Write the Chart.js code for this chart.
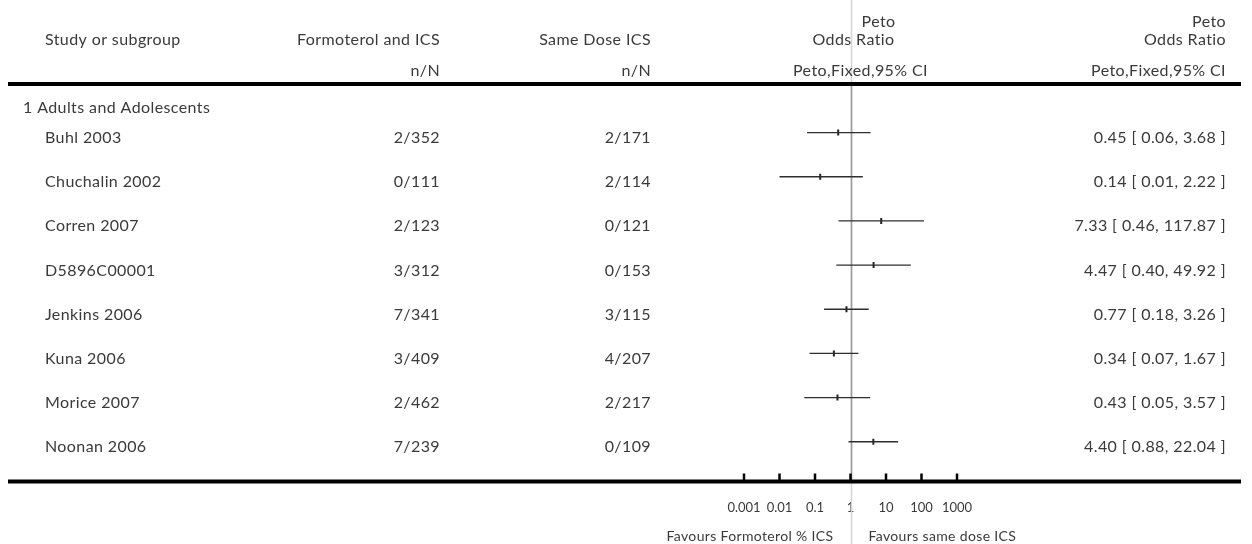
<!DOCTYPE html>
<html>
<head>
<meta charset="utf-8">
<script src="https://cdn.jsdelivr.net/npm/chart.js@4.4.0/dist/chart.umd.min.js"></script>
<style>
html,body{margin:0;padding:0;background:#fff;}
#wrap{width:1252px;height:544px;position:relative;}
</style>
</head>
<body>
<div id="wrap"><canvas id="c" width="1252" height="544"></canvas></div>
<script>
const studies = ["Buhl 2003","Chuchalin 2002","Corren 2007","D5896C00001","Jenkins 2006","Kuna 2006","Morice 2007","Noonan 2006"];
const formoterolICS = ["2/352","0/111","2/123","3/312","7/341","3/409","2/462","7/239"];
const sameDoseICS = ["2/171","2/114","0/121","0/153","3/115","4/207","2/217","0/109"];
const oddsRatio = [0.45,0.14,7.33,4.47,0.77,0.34,0.43,4.40];
const ciLow = [0.06,0.01,0.46,0.40,0.18,0.07,0.05,0.88];
const ciHigh = [3.68,2.22,117.87,49.92,3.26,1.67,3.57,22.04];
const tickValues = [0.001,0.01,0.1,1,10,100,1000];
const tickLabels = ["0.001","0.01","0.1","1","10","100","1000"];
const subgroup = "1 Adults and Adolescents";
const favoursLeft = "Favours Formoterol % ICS";
const favoursRight = "Favours same dose ICS";

const FONT = "Lato";
const TXT = "#3a3a3a";

const datasets = [];
studies.forEach((s,i)=>{
  datasets.push({
    type:'line',
    data:[{x:ciLow[i],y:i},{x:ciHigh[i],y:i}],
    borderColor:'#2e2e2e',
    borderWidth:1.4,
    pointRadius:0,
    fill:false
  });
});
datasets.push({
  type:'scatter',
  data:oddsRatio.map((v,i)=>({x:v,y:i})),
  pointStyle:'line',
  rotation:90,
  pointRadius:3,
  borderWidth:2,
  borderColor:'#222',
  backgroundColor:'#222'
});

const fmt = v => v.toFixed(2);

const tablePlugin = {
  id:'table',
  beforeDatasetsDraw(chart){
    const ctx = chart.ctx, xs = chart.scales.x, ca = chart.chartArea;
    const x1 = Math.round(xs.getPixelForValue(1)) + 0.5;
    ctx.save();
    ctx.lineWidth = 1.5;
    ctx.strokeStyle = '#d4d4d4';
    ctx.beginPath(); ctx.moveTo(x1,0); ctx.lineTo(x1,chart.height); ctx.stroke();
    ctx.strokeStyle = '#9a9a9a';
    ctx.beginPath(); ctx.moveTo(x1,ca.top); ctx.lineTo(x1,ca.bottom); ctx.stroke();
    ctx.restore();
  },
  afterDraw(chart){
    const ctx = chart.ctx, xs = chart.scales.x, ys = chart.scales.y, ca = chart.chartArea;
    ctx.save();
    // header and axis rules
    ctx.strokeStyle = '#000';
    ctx.lineWidth = 4;
    ctx.beginPath(); ctx.moveTo(8,ca.top); ctx.lineTo(1241,ca.top); ctx.stroke();
    ctx.beginPath(); ctx.moveTo(8,ca.bottom); ctx.lineTo(1241,ca.bottom); ctx.stroke();
    // tick marks
    ctx.lineWidth = 2.5;
    tickValues.forEach(v=>{
      const px = xs.getPixelForValue(v);
      ctx.beginPath(); ctx.moveTo(px,ca.bottom-8); ctx.lineTo(px,ca.bottom); ctx.stroke();
    });
    // texts
    ctx.fillStyle = TXT;
    ctx.textBaseline = 'alphabetic';
    ctx.font = `16px ${FONT}`;
    if ('letterSpacing' in ctx) ctx.letterSpacing = '0.4px';
    const x1 = xs.getPixelForValue(1);
    // headers
    ctx.textAlign = 'left';
    ctx.fillText("Study or subgroup",45,45);
    ctx.textAlign = 'right';
    ctx.fillText("Formoterol and ICS",440,45);
    ctx.fillText("n/N",440,76);
    ctx.fillText("Same Dose ICS",651,45);
    ctx.fillText("n/N",651,76);
    ctx.fillText("Peto",x1+45,27);
    ctx.fillText("Odds Ratio",x1+44,45);
    ctx.textAlign = 'center';
    ctx.fillText("Peto,Fixed,95% CI",x1+10,76);
    ctx.textAlign = 'right';
    ctx.fillText("Peto",1226,27);
    ctx.fillText("Odds Ratio",1226,45);
    ctx.fillText("Peto,Fixed,95% CI",1226,76);
    // subgroup
    ctx.textAlign = 'left';
    ctx.fillText(subgroup,23,ys.getPixelForValue(0)-20);
    studies.forEach((s,i)=>{
      const y = ys.getPixelForValue(i)+10.5;
      ctx.textAlign='left';
      ctx.fillText(s,45,y);
      ctx.textAlign='right';
      ctx.fillText(formoterolICS[i],440,y);
      ctx.fillText(sameDoseICS[i],651,y);
      ctx.fillText(`${fmt(oddsRatio[i])} [ ${fmt(ciLow[i])}, ${fmt(ciHigh[i])} ]`,1226,y);
    });
    // favours
    ctx.font = `14px ${FONT}`;
    if ('letterSpacing' in ctx) ctx.letterSpacing = '0.35px';
    ctx.textAlign='right';
    ctx.fillText(favoursLeft,x1-17,541);
    ctx.textAlign='left';
    ctx.fillText(favoursRight,x1+18,541);
    ctx.restore();
  }
};

new Chart(document.getElementById('c'),{
  type:'scatter',
  data:{datasets},
  options:{
    responsive:false,
    animation:false,
    events:[],
    layout:{padding:{left:744,right:295,top:84,bottom:0}},
    plugins:{legend:{display:false},tooltip:{enabled:false}},
    scales:{
      x:{
        type:'logarithmic',
        min:0.001,max:1000,
        position:'bottom',
        grid:{display:false,drawTicks:false},
        border:{display:false},
        afterBuildTicks(scale){ scale.ticks = tickValues.map(v=>({value:v})); },
        afterFit(scale){ scale.height = 544-481.5; },
        ticks:{
          autoSkip:false,maxRotation:0,
          padding:19,
          color:TXT,
          font:{family:FONT,size:13},
          callback(v,idx){ return tickLabels[idx]; }
        }
      },
      y:{
        type:'linear',display:false,reverse:true,min:-1.1,max:7.9
      }
    }
  },
  plugins:[tablePlugin]
});
</script>
</body>
</html>
